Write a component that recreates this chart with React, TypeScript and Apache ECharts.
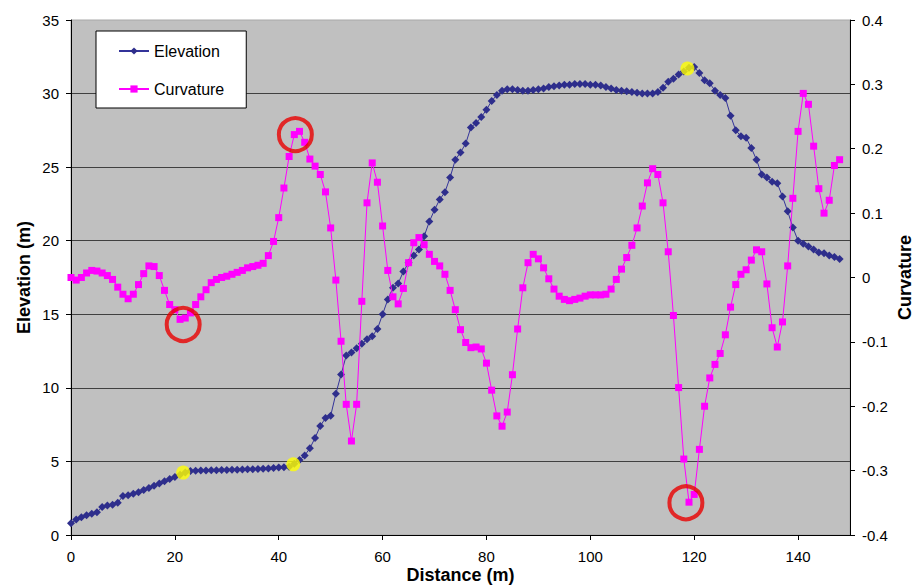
import React, { useEffect, useRef } from 'react';
import * as echarts from 'echarts';

const FONT = 'Arial, "Liberation Sans", sans-serif';

// Sample positions: one every metre, starting at 0 m
const DISTANCE_START = 0;
const DISTANCE_STEP = 1;

const elevation = [
  0.8, 1.05, 1.2, 1.35, 1.45, 1.55, 1.9, 2.0, 2.05, 2.2,
  2.65, 2.7, 2.8, 2.9, 3.05, 3.2, 3.35, 3.5, 3.65, 3.8,
  3.95, 4.1, 4.25, 4.35, 4.37, 4.38, 4.39, 4.4, 4.4, 4.41,
  4.42, 4.43, 4.44, 4.45, 4.46, 4.47, 4.48, 4.5, 4.52, 4.55,
  4.58, 4.6, 4.63, 4.85, 5.1, 5.4, 5.9, 6.6, 7.4, 7.95,
  8.1, 9.6, 10.9, 12.2, 12.4, 12.7, 13.0, 13.3, 13.5, 14.0,
  15.0, 16.0, 16.8, 17.1, 17.9, 18.5, 19.0, 19.4, 20.3, 21.3,
  22.1, 22.8, 23.3, 24.3, 25.5, 26.0, 26.6, 27.7, 28.0, 28.4,
  28.9, 29.5, 29.9, 30.2, 30.3, 30.3, 30.25, 30.2, 30.2, 30.25,
  30.3, 30.35, 30.45, 30.5, 30.55, 30.6, 30.6, 30.65, 30.65, 30.65,
  30.6, 30.6, 30.55, 30.45, 30.35, 30.25, 30.2, 30.15, 30.1, 30.05,
  30.0, 30.0, 30.0, 30.1, 30.4, 30.8, 31.0, 31.3, 31.5, 31.75,
  31.8, 31.4, 30.9, 30.7, 30.2, 29.9, 29.7, 28.5, 27.5, 27.1,
  27.0, 26.3, 25.5, 24.5, 24.3, 24.0, 23.9, 23.0, 22.0, 20.9,
  20.0, 19.8, 19.6, 19.4, 19.2, 19.15, 19.0, 18.9, 18.75,
];

const curvature = [
  0.0, -0.004, 0.0, 0.007, 0.011, 0.01, 0.007, 0.003, -0.003, -0.015,
  -0.026, -0.033, -0.026, -0.011, 0.006, 0.018, 0.017, 0.003, -0.02, -0.042,
  -0.05, -0.065, -0.063, -0.055, -0.042, -0.03, -0.019, -0.008, -0.003, 0.0,
  0.002, 0.005, 0.008, 0.011, 0.015, 0.017, 0.019, 0.022, 0.034, 0.056,
  0.093, 0.139, 0.188, 0.222, 0.227, 0.21, 0.184, 0.173, 0.16, 0.133,
  0.077, -0.004, -0.099, -0.197, -0.254, -0.197, -0.037, 0.116, 0.178, 0.148,
  0.08, 0.011, -0.03, -0.041, -0.017, 0.023, 0.054, 0.062, 0.051, 0.036,
  0.025, 0.018, 0.005, -0.02, -0.05, -0.081, -0.101, -0.109, -0.108, -0.111,
  -0.133, -0.175, -0.215, -0.231, -0.209, -0.151, -0.08, -0.016, 0.023, 0.036,
  0.029, 0.015, -0.002, -0.018, -0.029, -0.034, -0.036, -0.034, -0.032, -0.029,
  -0.027, -0.027, -0.027, -0.026, -0.018, -0.003, 0.013, 0.031, 0.05, 0.077,
  0.111, 0.147, 0.169, 0.16, 0.116, 0.04, -0.059, -0.171, -0.282, -0.349,
  -0.337, -0.267, -0.2, -0.156, -0.135, -0.118, -0.089, -0.046, -0.011, 0.005,
  0.012, 0.027, 0.043, 0.04, -0.01, -0.078, -0.108, -0.069, 0.018, 0.123,
  0.227, 0.286, 0.269, 0.204, 0.138, 0.1, 0.12, 0.174, 0.183,
];

// Highlighted points on the elevation profile (distance, elevation)
const yellowPoints = [
  [21.6, 4.24],
  [42.8, 4.8],
  [118.7, 31.7],
];

// Circled curvature extremes (distance, curvature)
const redCircles = [
  [21.6, -0.073],
  [43.2, 0.222],
  [118.4, -0.35],
];

const xMin = 0;
const xMax = 150;
const xInterval = 20;
const elevMin = 0;
const elevMax = 35;
const elevInterval = 5;
const curvMin = -0.4;
const curvMax = 0.4;
const curvInterval = 0.1;

export default function App() {
  const ref = useRef<HTMLDivElement>(null);

  useEffect(() => {
    document.body.style.margin = '0';
    if (!ref.current) return;
    const chart = echarts.init(ref.current, null, { renderer: 'svg' });

    const elevData = elevation.map((v, i) => [DISTANCE_START + i * DISTANCE_STEP, v]);
    const curvData = curvature.map((v, i) => [DISTANCE_START + i * DISTANCE_STEP, v]);

    const tickLabel = { fontSize: 15, color: '#000', fontFamily: FONT };
    const nameStyle = {
      fontSize: 18,
      lineHeight: 18,
      fontWeight: 'bold',
      color: '#000',
      fontFamily: FONT,
    };

    chart.setOption({
      animation: false,
      backgroundColor: '#ffffff',
      textStyle: { fontFamily: FONT },
      grid: {
        left: 71,
        right: 66,
        top: 20,
        bottom: 51,
        outerBoundsMode: 'none',
        containLabel: false,
        show: true,
        backgroundColor: '#c0c0c0',
        borderColor: '#a8a8a8',
        borderWidth: 1,
      },
      legend: {
        data: ['Elevation', 'Curvature'],
        orient: 'vertical',
        left: 96,
        top: 31,
        backgroundColor: '#ffffff',
        borderColor: '#000000',
        borderWidth: 1,
        borderRadius: 0,
        padding: [12, 22, 11, 22],
        itemGap: 22,
        itemWidth: 30,
        itemHeight: 9,
        textStyle: { fontSize: 16, color: '#000', lineHeight: 16, fontFamily: FONT },
      },
      xAxis: {
        type: 'value',
        min: xMin,
        max: xMax,
        interval: xInterval,
        name: 'Distance (m)',
        nameLocation: 'middle',
        nameGap: 31,
        nameMoveOverlap: false,
        nameTextStyle: nameStyle,
        axisLine: { show: true, onZero: false, lineStyle: { color: '#000', width: 1 } },
        axisTick: { show: true, length: 5, lineStyle: { color: '#000' } },
        axisLabel: {
          ...tickLabel,
          margin: 14,
          showMaxLabel: false,
          formatter: (v: number) => (v >= xMax ? '' : String(v)),
        },
        splitLine: { show: false },
      },
      yAxis: [
        {
          type: 'value',
          position: 'left',
          min: elevMin,
          max: elevMax,
          interval: elevInterval,
          name: 'Elevation (m)',
          nameLocation: 'middle',
          nameGap: 38,
          nameRotate: 90,
          nameMoveOverlap: false,
          nameTextStyle: nameStyle,
          axisLine: { show: true, lineStyle: { color: '#000', width: 1 } },
          axisTick: { show: true, length: 5, lineStyle: { color: '#000' } },
          axisLabel: { ...tickLabel, margin: 12 },
          splitLine: {
            show: true,
            showMinLine: false,
            showMaxLine: false,
            lineStyle: { color: '#404040', width: 1 },
          },
        },
        {
          type: 'value',
          position: 'right',
          min: curvMin,
          max: curvMax,
          interval: curvInterval,
          name: 'Curvature',
          nameLocation: 'middle',
          nameGap: 46,
          nameRotate: 90,
          nameMoveOverlap: false,
          nameTextStyle: nameStyle,
          axisLine: { show: true, lineStyle: { color: '#000', width: 1 } },
          axisTick: { show: true, length: 5, lineStyle: { color: '#000' } },
          axisLabel: {
            ...tickLabel,
            margin: 12,
            formatter: (v: number) => {
              const r = Math.round(v * 10) / 10;
              return r === 0 ? '0' : String(r);
            },
          },
          splitLine: { show: false },
        },
      ],
      series: [
        {
          name: 'Elevation',
          type: 'line',
          yAxisIndex: 0,
          data: elevData,
          symbol: 'diamond',
          symbolSize: 8,
          showAllSymbol: true,
          color: '#333399',
          lineStyle: { width: 1, color: '#333399' },
          itemStyle: { color: '#2e2e8c' },
          z: 2,
        },
        {
          name: 'Curvature',
          type: 'line',
          yAxisIndex: 1,
          data: curvData,
          symbol: 'rect',
          symbolSize: 7,
          showAllSymbol: true,
          color: '#ff00ff',
          lineStyle: { width: 1, color: '#ff00ff' },
          itemStyle: { color: '#ff00ff' },
          z: 3,
        },
        {
          name: 'Points',
          type: 'scatter',
          yAxisIndex: 0,
          data: yellowPoints,
          symbol: 'circle',
          symbolSize: 14,
          itemStyle: { color: '#ffff00' },
          z: 4,
        },
        {
          name: 'Extremes',
          type: 'scatter',
          yAxisIndex: 1,
          data: redCircles,
          symbol: 'circle',
          symbolSize: 33,
          itemStyle: { color: 'rgba(0,0,0,0)', borderColor: '#e80000', borderWidth: 4 },
          z: 5,
        },
      ],
    });

    return () => chart.dispose();
  }, []);

  return <div ref={ref} style={{ width: 916, height: 586 }} />;
}
